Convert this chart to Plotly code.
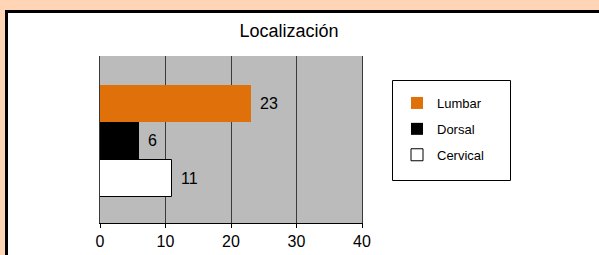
import plotly.graph_objects as go

# Data
series = ["Lumbar", "Dorsal", "Cervical"]
values = [23, 6, 11]
colors = ["#DF700A", "#000000", "#FFFFFF"]
title_text = "Localización"
x_ticks = [0, 10, 20, 30, 40]

W, H = 599, 255
L, R, T, B = 100, 237, 56, 32
pw, ph = W - L - R, H - T - B

def px_x(p):
    return (p - L) / pw

def px_y(p):
    return 1 - (p - T) / ph

fig = go.Figure()
for name, val, col in zip(series, values, colors):
    fig.add_trace(go.Bar(
        x=[val], y=[name], name=name, orientation="h",
        marker=dict(color=col, line=dict(color="#000000", width=1 if col == "#FFFFFF" else 0)),
        legendgroup=name, hoverinfo="skip",
    ))
    fig.add_annotation(x=val, y=name, text=str(val), showarrow=False,
                       xanchor="left", yanchor="middle", xshift=7,
                       font=dict(size=16, color="#000000", family="Liberation Sans, Arial, sans-serif"))

shapes = [
    # white panel
    dict(type="rect", xref="paper", yref="paper",
         x0=px_x(6.5), x1=px_x(620), y0=px_y(280), y1=px_y(11.5),
         fillcolor="#FFFFFF", line=dict(color="#000000", width=3), layer="below"),
    # plot area background
    dict(type="rect", xref="x domain", yref="y domain", x0=0, x1=1, y0=0, y1=1,
         fillcolor="#BBBBBB", line=dict(width=0), layer="below"),
    # legend box
    dict(type="rect", xref="paper", yref="paper",
         x0=px_x(392.5), x1=px_x(510.5), y0=px_y(180.5), y1=px_y(80.5),
         fillcolor="#FFFFFF", line=dict(color="#000000", width=1), layer="above"),
]

fig.update_layout(
    width=W, height=H,
    margin=dict(l=L, r=R, t=T, b=B, pad=0),
    paper_bgcolor="#FFD5B5",
    plot_bgcolor="rgba(0,0,0,0)",
    barmode="overlay", bargap=0,
    font=dict(family="Liberation Sans, Arial, sans-serif", color="#000000"),
    title=dict(text=title_text, x=289 / W, xref="container", xanchor="center",
               y=1 - 31 / H, yref="container", yanchor="middle",
               font=dict(size=18, color="#000000")),
    shapes=shapes,
    showlegend=True,
    legend=dict(x=px_x(397), y=px_y(88), xanchor="left", yanchor="top",
                bgcolor="rgba(0,0,0,0)", borderwidth=0,
                font=dict(size=13, color="#000000"),
                tracegroupgap=6, traceorder="grouped"),
)
fig.update_xaxes(range=[0, 40], tickvals=x_ticks, ticks="outside", ticklen=4,
                 tickcolor="#000000", showline=True, linecolor="#000000", linewidth=1,
                 mirror=False, showgrid=True, gridcolor="#3A3A3A", gridwidth=1,
                 zeroline=False, tickfont=dict(size=16), fixedrange=True,
                 automargin=False)
fig.update_yaxes(type="category", categoryorder="array",
                 categoryarray=list(reversed(series)), range=[-1.2, 3.28],
                 showticklabels=False, ticks="", showgrid=False, zeroline=False,
                 showline=True, linecolor="#3A3A3A", linewidth=1, mirror=True,
                 fixedrange=True, automargin=False)

fig.write_html("out.html", config={"displayModeBar": False},
               post_script="document.body.style.margin='0';document.body.style.overflow='hidden';")
